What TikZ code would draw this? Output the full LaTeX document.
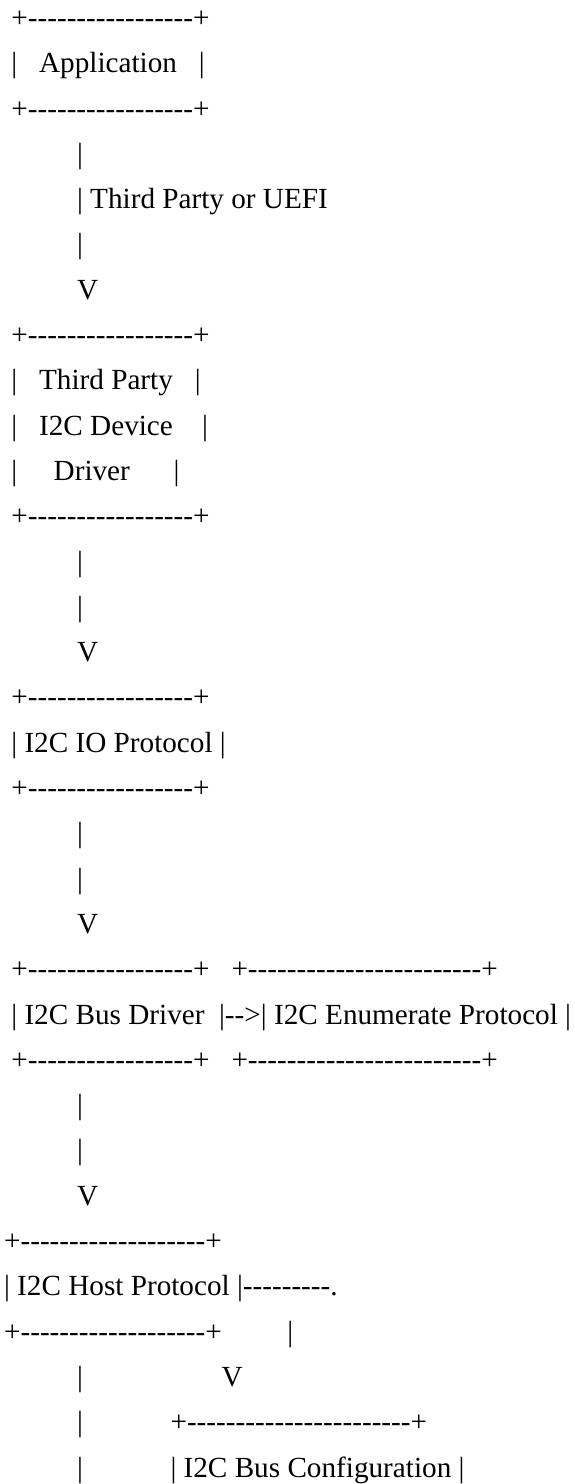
\documentclass[tikz,border=0pt]{standalone}
\usepackage{fontspec}
\newfontfamily\asciifont{Liberation Serif}
\newcommand{\gap}[1]{\hspace*{#1\fontdimen2\font}}

\begin{document}
\begin{tikzpicture}[x=1pt, y=-1pt, ascii/.style={anchor=base west, inner sep=0pt, outer sep=0pt, font=\asciifont\fontsize{29.2pt}{45.3pt}\selectfont}]
  \useasboundingbox (0,0) rectangle (575,1484);
  % application
  \node[ascii] (appTop) at (4.1,27.4) {\gap{1}+-----------------+};
  \node[ascii] (app) at (4.1,72.7) {\gap{1}|\gap{3}Application\gap{3}|};
  \node[ascii] (appBot) at (4.1,118.0) {\gap{1}+-----------------+};
  \node[ascii] (appLink1) at (4.1,163.3) {\gap{10}|};
  \node[ascii] (appLink2) at (4.1,208.6) {\gap{10}| Third Party or UEFI};
  \node[ascii] (appLink3) at (4.1,253.9) {\gap{10}|};
  \node[ascii] (appLink4) at (4.1,299.2) {\gap{10}V};
  % third party driver
  \node[ascii] (drvTop) at (4.1,344.5) {\gap{1}+-----------------+};
  \node[ascii] (drv1) at (4.1,389.8) {\gap{1}|\gap{3}Third Party\gap{3}|};
  \node[ascii] (drv2) at (4.1,435.1) {\gap{1}|\gap{3}I2C Device\gap{4}|};
  \node[ascii] (drv3) at (4.1,480.4) {\gap{1}|\gap{5}Driver\gap{6}|};
  \node[ascii] (drvBot) at (4.1,525.7) {\gap{1}+-----------------+};
  \node[ascii] (drvLink1) at (4.1,571.0) {\gap{10}|};
  \node[ascii] (drvLink2) at (4.1,616.3) {\gap{10}|};
  \node[ascii] (drvLink3) at (4.1,661.6) {\gap{10}V};
  % io protocol
  \node[ascii] (ioTop) at (4.1,706.9) {\gap{1}+-----------------+};
  \node[ascii] (io) at (4.1,752.2) {\gap{1}| I2C IO Protocol |};
  \node[ascii] (ioBot) at (4.1,797.5) {\gap{1}+-----------------+};
  \node[ascii] (ioLink1) at (4.1,842.8) {\gap{10}|};
  \node[ascii] (ioLink2) at (4.1,888.1) {\gap{10}|};
  \node[ascii] (ioLink3) at (4.1,933.4) {\gap{10}V};
  % bus driver and enumerate protocol
  \node[ascii] (busTop) at (4.1,978.7) {\gap{1}+-----------------+\gap{3}+------------------------+};
  \node[ascii] (bus) at (4.1,1024.0) {\gap{1}| I2C Bus Driver\gap{2}|-->| I2C Enumerate Protocol |};
  \node[ascii] (busBot) at (4.1,1069.3) {\gap{1}+-----------------+\gap{3}+------------------------+};
  \node[ascii] (busLink1) at (4.1,1114.6) {\gap{10}|};
  \node[ascii] (busLink2) at (4.1,1159.9) {\gap{10}|};
  \node[ascii] (busLink3) at (4.1,1205.2) {\gap{10}V};
  % host protocol and bus configuration
  \node[ascii] (hostTop) at (4.1,1250.5) {+-------------------+};
  \node[ascii] (host) at (4.1,1295.8) {| I2C Host Protocol |---------.};
  \node[ascii] (hostBot) at (4.1,1341.1) {+-------------------+\gap{9}|};
  \node[ascii] (hostLink1) at (4.1,1386.4) {\gap{10}|\gap{19}V};
  \node[ascii] (hostLink2) at (4.1,1431.7) {\gap{10}|\gap{12}+-----------------------+};
  \node[ascii] (hostLink3) at (4.1,1477.0) {\gap{10}|\gap{12}| I2C Bus Configuration |};
\end{tikzpicture}
\end{document}
